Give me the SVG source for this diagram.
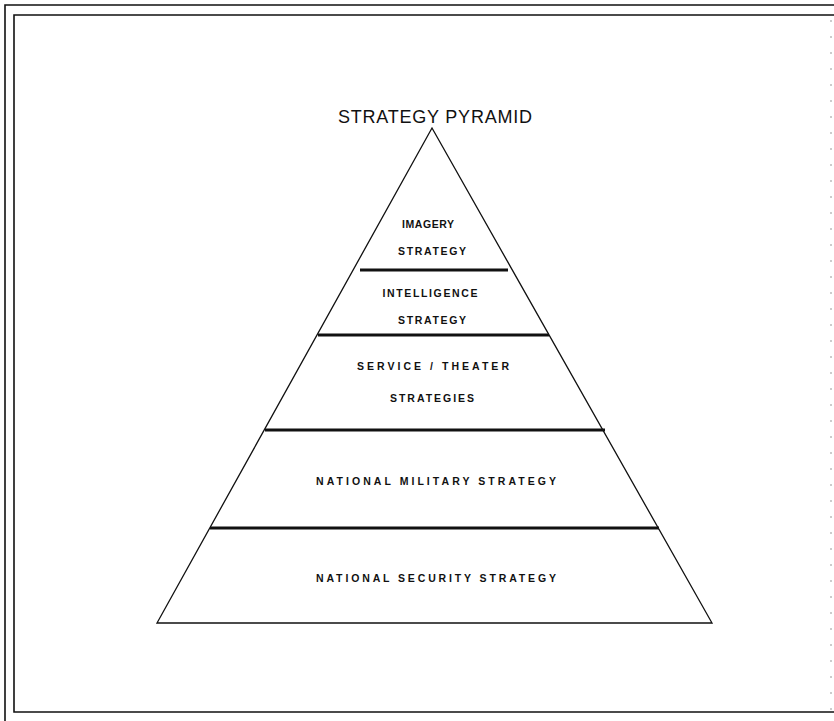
<svg xmlns="http://www.w3.org/2000/svg" width="834" height="721" viewBox="0 0 834 721">
<style>
.frame{fill:none;stroke:#111;stroke-width:1.6}
.faint{fill:none;stroke:#999;stroke-width:1;stroke-dasharray:2 14}
.edge{fill:none;stroke:#111;stroke-width:1.3;stroke-linejoin:miter}
.band{stroke:#111;stroke-width:3;stroke-linecap:butt}
.lbl{font-family:"Liberation Sans",Arial,sans-serif;font-size:10.5px;font-weight:bold;fill:#111;text-anchor:middle}
.title{font-family:"Liberation Sans",Arial,sans-serif;font-size:18px;fill:#111;text-anchor:middle}
</style>
<rect width="834" height="721" fill="#fff"/>
<g id="frame">
<polyline class="frame" points="834,5 5,5 5,721"/>
<polyline class="frame" points="834,15 14,15 14,712 834,712"/>
<line class="faint" x1="831" y1="20" x2="831" y2="710"/>
</g>
<g id="title"><text class="title" x="435" y="123" textLength="194" lengthAdjust="spacing">STRATEGY PYRAMID</text></g>
<g id="pyramid"><polygon class="edge" points="432,128 712,623 157,623"/></g>
<g id="connectors">
<line class="band" x1="360" y1="270" x2="508" y2="270"/>
<line class="band" x1="318" y1="335" x2="549" y2="335"/>
<line class="band" x1="265" y1="430" x2="605" y2="430"/>
<line class="band" x1="210" y1="528" x2="659" y2="528"/>
</g>
<g id="imagery">
<text class="lbl" x="428" y="228" textLength="52" lengthAdjust="spacing">IMAGERY</text>
<text class="lbl" x="432" y="255" textLength="68" lengthAdjust="spacing">STRATEGY</text>
</g>
<g id="intelligence">
<text class="lbl" x="430" y="297" textLength="95" lengthAdjust="spacing">INTELLIGENCE</text>
<text class="lbl" x="432" y="324" textLength="68" lengthAdjust="spacing">STRATEGY</text>
</g>
<g id="service">
<text class="lbl" x="433" y="370" textLength="152" lengthAdjust="spacing">SERVICE / THEATER</text>
<text class="lbl" x="432" y="402" textLength="84" lengthAdjust="spacing">STRATEGIES</text>
</g>
<g id="military"><text class="lbl" x="436" y="485" textLength="240" lengthAdjust="spacing">NATIONAL MILITARY STRATEGY</text></g>
<g id="security"><text class="lbl" x="436" y="582" textLength="240" lengthAdjust="spacing">NATIONAL SECURITY STRATEGY</text></g>
</svg>
